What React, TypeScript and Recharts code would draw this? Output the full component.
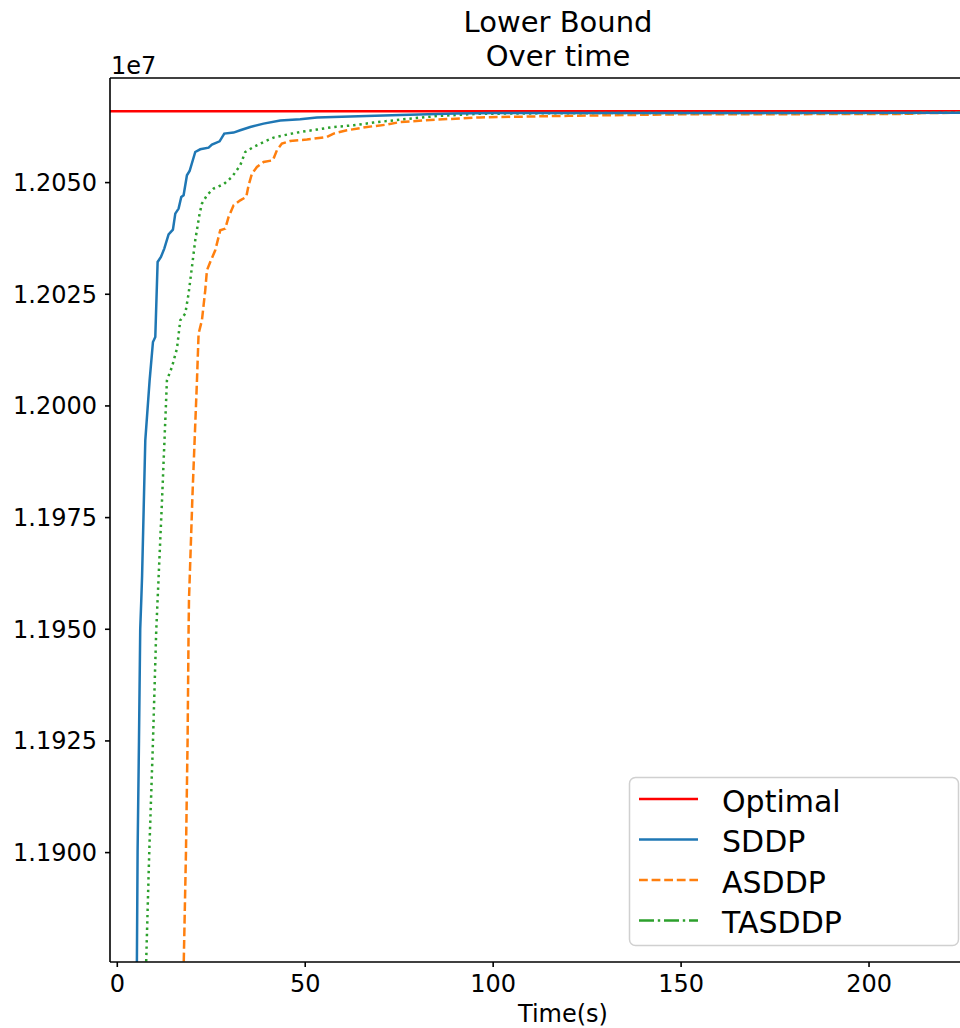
import { LineChart, Line, XAxis, YAxis, ReferenceLine } from "recharts";

const FONT = "DejaVu Sans";

// time (s) / lower bound pairs
const SDDP_T = [5.1, 5.4, 5.77, 6.1, 6.38, 6.6, 7.45, 8.6, 9.49, 10.11, 10.73, 11.61, 12.5, 13.65, 14.8, 15.43, 16.31, 17.02, 17.64, 18.53, 19.24, 20.74, 22.07, 24.29, 25.18, 27.22, 28.46, 30.94, 32.71, 35.37, 38.92, 43.35, 48.67, 53.1, 57.5, 66.4, 75.3, 90, 100, 150, 230];
const SDDP_V = [11860000, 11900000, 11925000, 11950000, 11956500, 11962000, 11992300, 12005740, 12014315, 12015435, 12032225, 12033344, 12035224, 12038426, 12039478, 12043060, 12044180, 12046776, 12047157, 12051634, 12052597, 12056850, 12057455, 12057835, 12058507, 12059246, 12060970, 12061194, 12061708, 12062447, 12063208, 12063880, 12064171, 12064552, 12064686, 12064910, 12065134, 12065450, 12065560, 12065600, 12065620];

const ASDDP_T = [17.55, 18.27, 18.7, 18.97, 19.07, 20.0, 21.2, 21.63, 22.52, 23.4, 23.85, 24.73, 26.06, 27.39, 28.72, 29.61, 30.94, 32.71, 34.31, 34.93, 35.82, 37.15, 38.92, 41.4, 42.46, 43.79, 46.01, 50.44, 55.76, 57.54, 61.08, 66.4, 71.72, 75.27, 85, 96.5, 120, 150, 200, 212.5, 214, 230];
const ASDDP_V = [11870000, 11900000, 11925000, 11950000, 11956500, 11980000, 12005740, 12016195, 12019173, 12025889, 12030366, 12032225, 12034844, 12039322, 12039702, 12042299, 12044918, 12046037, 12046776, 12049396, 12052015, 12053492, 12054612, 12054992, 12057231, 12058731, 12059313, 12059626, 12060208, 12060970, 12061708, 12062447, 12062985, 12063566, 12064100, 12064600, 12064950, 12065290, 12065350, 12065400, 12065600, 12065620];

const TASDDP_T = [7.5, 8.5, 9.5, 10.37, 10.72, 11.9, 13.21, 14.54, 15.87, 16.76, 18.09, 18.97, 19.86, 20.74, 21.9, 22.52, 23.85, 25.62, 28.28, 30.5, 32.71, 34.04, 36.26, 38.92, 41.58, 45.13, 48.67, 53.1, 57.5, 62.85, 68.17, 75.27, 85, 96, 120, 230];
const TASDDP_V = [11870000, 11900000, 11925130, 11949980, 11956491, 11978880, 12005740, 12008718, 12012836, 12019173, 12020673, 12025150, 12031105, 12037083, 12043060, 12045299, 12047157, 12048657, 12049619, 12051254, 12053873, 12056850, 12057970, 12059089, 12060074, 12060746, 12061328, 12061865, 12062447, 12062828, 12063432, 12064104, 12064900, 12065400, 12065550, 12065620];

const OPTIMAL = 12065960;

const X_TICKS = [0, 50, 100, 150, 200];
const Y_TICKS = [11900000, 11925000, 11950000, 11975000, 12000000, 12025000, 12050000];
const X_DOMAIN = [-1.94, 224.2];
const Y_DOMAIN = [11875508, 12073417];

const toRows = (t: number[], v: number[]) => t.map((x, i) => ({ t: x, v: v[i] }));

const LEGEND = [
  { name: "Optimal", color: "#ff0000", dash: undefined },
  { name: "SDDP", color: "#1f77b4", dash: undefined },
  { name: "ASDDP", color: "#ff7f0e", dash: "8.8 3.8" },
  { name: "TASDDP", color: "#2ca02c", dash: "15 3.8 2.4 3.8" },
];

const tickStyle = { fill: "#000", fontSize: 24, fontFamily: FONT };
const spine = { stroke: "#000", strokeWidth: 1.6 };

export default function App() {
  return (
    <div style={{ position: "absolute", left: 0, top: 0, width: 960, height: 1028, background: "#fff", overflow: "hidden" }}>
      <LineChart width={960} height={1028} margin={{ top: 78, right: 0, bottom: 0, left: 0 }}>
        <XAxis
          type="number"
          dataKey="t"
          domain={X_DOMAIN}
          ticks={X_TICKS}
          interval={0}
          allowDataOverflow
          height={66}
          tick={tickStyle}
          tickSize={5}
          tickMargin={8}
          axisLine={spine}
          tickLine={spine}
        />
        <YAxis
          type="number"
          domain={Y_DOMAIN}
          ticks={Y_TICKS}
          interval={0}
          allowDataOverflow
          width={110}
          tick={tickStyle}
          tickSize={5}
          tickMargin={8}
          axisLine={spine}
          tickLine={spine}
          tickFormatter={(v: number) => (v / 1e7).toFixed(4)}
        />
        <ReferenceLine y={Y_DOMAIN[1]} stroke="#000" strokeWidth={1.6} />
        <ReferenceLine y={OPTIMAL} stroke="#ff0000" strokeWidth={2.5} />
        <Line data={toRows(ASDDP_T, ASDDP_V)} dataKey="v" name="ASDDP" stroke="#ff7f0e" strokeWidth={2.5} strokeDasharray="8.8 3.8" dot={false} activeDot={false} isAnimationActive={false} />
        <Line data={toRows(TASDDP_T, TASDDP_V)} dataKey="v" name="TASDDP" stroke="#2ca02c" strokeWidth={2.5} strokeDasharray="2.4 3.9" dot={false} activeDot={false} isAnimationActive={false} />
        <Line data={toRows(SDDP_T, SDDP_V)} dataKey="v" name="SDDP" stroke="#1f77b4" strokeWidth={2.5} dot={false} activeDot={false} isAnimationActive={false} />
      </LineChart>

      {/* title, offset label, axis label and legend, matplotlib style */}
      <svg width={960} height={1028} style={{ position: "absolute", left: 0, top: 0, pointerEvents: "none" }} fontFamily={FONT}>
        <text x={558} y={32} textAnchor="middle" fontSize={29} fill="#000">Lower Bound</text>
        <text x={558} y={66} textAnchor="middle" fontSize={29} fill="#000">Over time</text>
        <text x={111} y={74} fontSize={24} fill="#000">1e7</text>
        <text x={563} y={1022} textAnchor="middle" fontSize={24} fill="#000">Time(s)</text>
        <rect x={629.5} y={777.5} width={329} height={168} rx={6} fill="#fff" fillOpacity={0.8} stroke="#d0d0d0" strokeWidth={1.5} />
        {LEGEND.map((s, i) => {
          const y = 799 + i * 40.5;
          return (
            <g key={s.name}>
              <line x1={639} x2={698} y1={y} y2={y} stroke={s.color} strokeWidth={2.5} strokeDasharray={s.dash} />
              <text x={722} y={y + 12.7} fontSize={30} fill="#000">{s.name}</text>
            </g>
          );
        })}
      </svg>
    </div>
  );
}
